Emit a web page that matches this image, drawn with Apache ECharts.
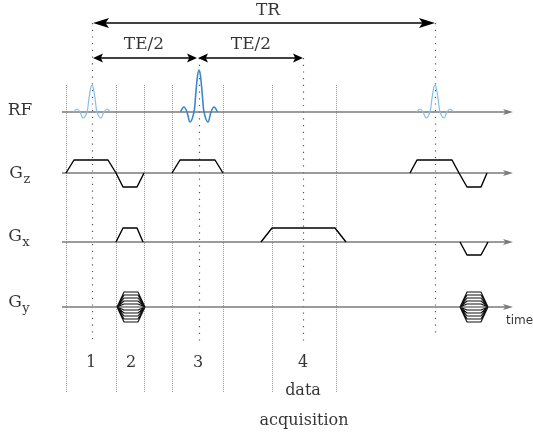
<!DOCTYPE html>
<html>
<head>
<meta charset="utf-8">
<script src="https://cdn.jsdelivr.net/npm/echarts@6/dist/echarts.min.js"></script>
<style>
html, body { margin: 0; padding: 0; background: #fff; }
#chart { width: 533px; height: 437px; }
</style>
</head>
<body>
<div id="chart"></div>
<script>
// rows of the sequence diagram, top to bottom
var rowNames = ['RF', 'Gz', 'Gx', 'Gy'];
var rowSubs = ['', 'z', 'x', 'y'];

// section boundaries (fine dotted) and pulse / echo centres (coarse dotted)
var boundaryTimes = [66, 116, 144, 172, 223, 272, 336];
var centerTimes = [92, 199, 303, 435];

// RF pulses: centre time and flip
var rfCenters = [92, 199, 435];
var rfKind = ['90', '180', '90'];
// sinc shape: time offset and amplitude
var rfOffset = [-18.5, -15, -12, -9, -5, -3.5, -1.5, 0, 1.5, 3.5, 5, 9, 12, 15, 18.5];
var rf90Amp = [0, 3, 0, -6, 0, 10, 23, 27, 23, 10, 0, -6, 0, 3, 0];
var rf180Amp = [0, 5, 0, -10, 0, 15, 36, 42, 36, 15, 0, -10, 0, 5, 0];

// gradient lobes, [time, amplitude] corners
var gzLobes = [
  [[66, 0], [74, 13], [108, 13], [116, 0], [123, -14], [137, -14], [144, 0]],
  [[172, 0], [180, 13], [215, 13], [223, 0]],
  [[410, 0], [417, 13], [452, 13], [459, 0], [467, -14], [481, -14], [487, 0]]
];
var gxLobes = [
  [[116, 0], [123, 14], [137, 14], [143, 0]],
  [[261, 0], [272, 14], [335, 14], [346, 0]],
  [[460, 0], [467, -13], [481, -13], [488, 0]]
];
// phase encoding table: ramp corner times and the steps
var gyTimes = [[117, 124, 138, 145], [460, 467, 481, 488]];
var gySteps = [15, 12, 9, 6, 3, -3, -6, -9, -12, -15];

// timing arrows
var timingNames = ['TR', 'TE/2', 'TE/2'];
var timingFrom = [93, 93, 198];
var timingTo = [435, 197, 303];

// section numbers under the diagram
var sectionNames = ['1', '2', '3', '4'];
var sectionTimes = [91, 131, 198, 303];

// ---- layout (pixel units of the canvas) ----
var W = 533, H = 437;
var rowLevel = [112, 173, 242, 307];
var axisStart = 62, axisEnd = 513;
var serif = 'DejaVu Serif';
var ink = '#000';
// notched arrow heads, padded to a square box so they keep their shape
var longHead = 'path://M0,0M16,16M8,0L13,16L8,12.5L3,16Z';
var shortHead = 'path://M0,0M10,10M5,0L9.5,10L5,7.8L0.5,10Z';
var axisHead = 'path://M0,0M10,10M5,0L8,10L5,7.5L2,10Z';
var longSize = 16, shortSize = 10, axisSize = 10;

function lobesToLine(lobes, base) {
  var out = [];
  lobes.forEach(function (lobe, i) {
    if (i > 0) out.push(null);
    lobe.forEach(function (p) { out.push([p[0], base - p[1]]); });
  });
  return out;
}

var series = [];

// fine dotted section boundaries
series.push({
  type: 'lines', coordinateSystem: 'cartesian2d', silent: true, z: 1,
  lineStyle: { color: '#9a9a9a', width: 1, type: [1, 1], opacity: 1 },
  data: boundaryTimes.map(function (t) { return { coords: [[t, 85], [t, 393]] }; })
});
// coarse dotted centre lines
var centerTop = [23, 58, 58, 23];
var centerBottom = [343, 343, 343, 335];
series.push({
  type: 'lines', coordinateSystem: 'cartesian2d', silent: true, z: 1,
  lineStyle: { color: '#555', width: 1.2, type: [1.2, 5.5], opacity: 1 },
  data: centerTimes.map(function (t, i) { return { coords: [[t, centerTop[i]], [t, centerBottom[i]]] }; })
});
// row baselines with arrow heads (symbols sit centred on the end point)
series.push({
  type: 'lines', coordinateSystem: 'cartesian2d', silent: true, z: 2,
  symbol: ['none', axisHead], symbolSize: axisSize,
  lineStyle: { color: '#7a7a7a', width: 1.5, type: 'solid', opacity: 1 },
  data: rowLevel.map(function (y) { return { coords: [[axisStart, y], [axisEnd - axisSize / 2, y]] }; })
});
// timing arrows TR and TE/2
var timingLevel = [23, 58, 58];
timingNames.forEach(function (n, i) {
  var head = i === 0 ? longHead : shortHead;
  var s = i === 0 ? longSize : shortSize;
  series.push({
    type: 'lines', coordinateSystem: 'cartesian2d', silent: true, z: 3,
    symbol: [head, head], symbolSize: s,
    lineStyle: { color: ink, width: 1.5, type: 'solid', opacity: 1 },
    data: [{ coords: [[timingFrom[i] + s / 2, timingLevel[i]], [timingTo[i] - s / 2, timingLevel[i]]] }]
  });
});

// RF pulses
rfCenters.forEach(function (c, k) {
  var amp = rfKind[k] === '180' ? rf180Amp : rf90Amp;
  series.push({
    type: 'line', smooth: 0.35, showSymbol: false, silent: true, z: 4,
    lineStyle: { color: rfKind[k] === '180' ? '#3a88cc' : '#86bde8', width: rfKind[k] === '180' ? 1.6 : 1.2 },
    data: rfOffset.map(function (o, i) { return [c + o, rowLevel[0] - amp[i]]; })
  });
});

// gradients
series.push({
  type: 'line', showSymbol: false, silent: true, z: 4, connectNulls: false,
  lineStyle: { color: ink, width: 1.4 },
  data: lobesToLine(gzLobes, rowLevel[1])
});
series.push({
  type: 'line', showSymbol: false, silent: true, z: 4, connectNulls: false,
  lineStyle: { color: ink, width: 1.4 },
  data: lobesToLine(gxLobes, rowLevel[2])
});
var gyLobes = [];
gyTimes.forEach(function (t) {
  gySteps.forEach(function (a) {
    gyLobes.push([[t[0], 0], [t[1], a], [t[2], a], [t[3], 0]]);
  });
});
series.push({
  type: 'line', showSymbol: false, silent: true, z: 4, connectNulls: false,
  lineStyle: { color: '#111', width: 1.1 },
  data: lobesToLine(gyLobes, rowLevel[3])
});

// text
function txt(x, y, s, size, family, align) {
  return {
    value: [x, y],
    label: { show: true, position: 'inside', formatter: s, fontSize: size, fontFamily: family || serif, color: ink, align: align || 'center', verticalAlign: 'middle' }
  };
}
var labels = [];
var rowLabelX = [20, 16, 15, 15];
var rowLabelY = [110.5, 173.5, 237, 303];
rowNames.forEach(function (n, i) {
  labels.push(txt(rowLabelX[i], rowLabelY[i], n.charAt(0) === 'G' ? 'G' : n, 17));
  if (rowSubs[i]) labels.push(txt(rowLabelX[i] + 11, rowLabelY[i] + 6, rowSubs[i], 13));
});
labels.push(txt(268, 11, timingNames[0], 17));
labels.push(txt(144, 45, timingNames[1], 17));
labels.push(txt(251, 45, timingNames[2], 17));
sectionNames.forEach(function (n, i) { labels.push(txt(sectionTimes[i], 363, n, 16)); });
labels.push(txt(303, 391, 'data', 16));
labels.push(txt(304, 421, 'acquisition', 16));
labels.push(txt(506, 321, 'time', 12, 'DejaVu Sans', 'left'));
series.push({
  type: 'scatter', symbolSize: 0, silent: true, z: 5,
  itemStyle: { color: 'transparent' },
  data: labels
});

var chart = echarts.init(document.getElementById('chart'), null, { renderer: 'canvas' });
chart.setOption({
  animation: false,
  backgroundColor: '#fff',
  grid: { left: 0, right: 0, top: 0, bottom: 0 },
  xAxis: { type: 'value', min: 0, max: W, show: false },
  yAxis: { type: 'value', min: 0, max: H, inverse: true, show: false },
  series: series
});
</script>
</body>
</html>
